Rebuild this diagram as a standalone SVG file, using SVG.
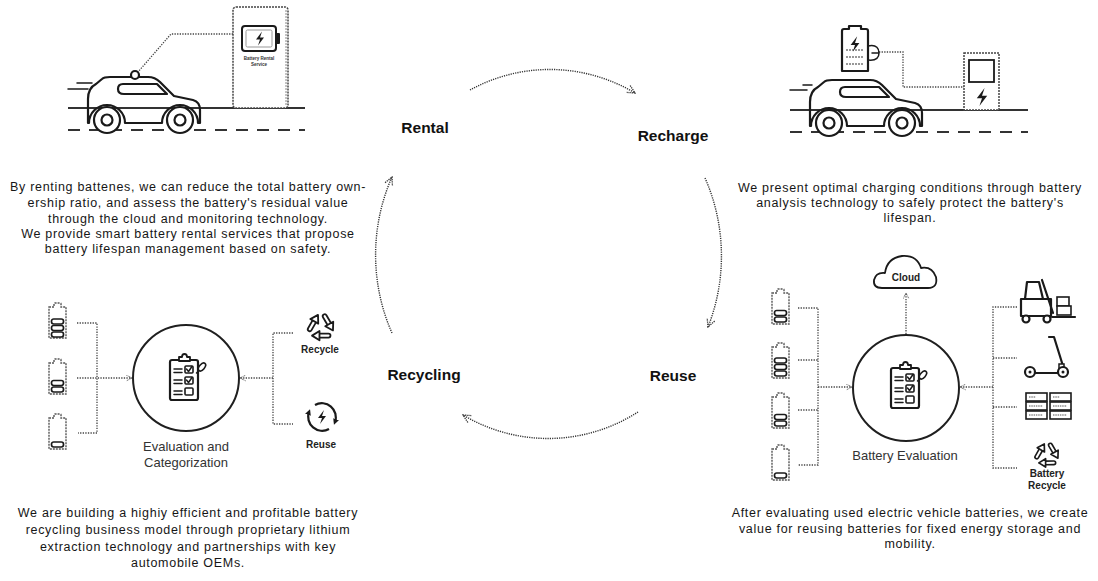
<svg xmlns="http://www.w3.org/2000/svg" xmlns:xlink="http://www.w3.org/1999/xlink" width="1098" height="581" viewBox="0 0 1098 581">
  <style>
    text { font-family: 'Liberation Sans', Arial, sans-serif; }
    .para { font-size: 12.5px; letter-spacing: 0.7px; fill: #161616; text-anchor: middle; }
    .stage { font-size: 15.5px; font-weight: bold; fill: #111; text-anchor: middle; }
    .lbl { font-size: 13px; fill: #333; text-anchor: middle; }
    .tag { font-size: 10px; font-weight: bold; fill: #222; text-anchor: middle; }
    .tiny { font-size: 4.5px; font-weight: bold; fill: #333; text-anchor: middle; }
    .dot { fill: none; stroke: #444; stroke-width: 1.3; stroke-dasharray: 1.3 1.3; }
    .cyc { fill: none; stroke: #333; stroke-width: 1.4; stroke-dasharray: 1.2 1.1; }
    .ink { fill: none; stroke: #1a1a1a; stroke-width: 2.2; stroke-linejoin: round; stroke-linecap: round; }
    .thin { fill: none; stroke: #1a1a1a; stroke-width: 1.5; stroke-linejoin: round; stroke-linecap: round; }
    .solid { fill: #1a1a1a; stroke: none; }
    .road { fill: none; stroke: #333; stroke-width: 1.8; }
    .lane { fill: none; stroke: #333; stroke-width: 1.8; stroke-dasharray: 12 9; }
    .cell { fill: none; stroke: #555; stroke-width: 1.4; stroke-dasharray: 2 1; }
    .bar { fill: #fff; stroke: #1a1a1a; stroke-width: 1.7; }
    .disc { fill: #fff; stroke: #1a1a1a; stroke-width: 2.2; }
  </style>
  <defs>
    <marker id="chev" viewBox="0 0 10 10" refX="9" refY="5" markerWidth="10" markerHeight="10" orient="auto" markerUnits="userSpaceOnUse">
      <path d="M1,1 L9,5 L1,9" fill="none" stroke="#333" stroke-width="1.3" stroke-dasharray="1.3 0.9"/>
    </marker>
    <marker id="chevS" viewBox="0 0 10 10" refX="9" refY="5" markerWidth="7" markerHeight="7" orient="auto" markerUnits="userSpaceOnUse">
      <path d="M1,1 L9,5 L1,9" fill="none" stroke="#444" stroke-width="1.3" stroke-dasharray="1.3 0.9"/>
    </marker>
    <marker id="tip" viewBox="0 0 10 10" refX="5" refY="5" markerWidth="6" markerHeight="6" orient="auto" markerUnits="userSpaceOnUse">
      <path d="M0,0 L10,5 L0,10 Z" fill="#1a1a1a"/>
    </marker>

    <!-- compact car outline, rear at x=88 -->
    <g id="car">
      <path class="ink" d="M88,123 L88,99 Q88,88 96,84 L102,79 Q104,77 110,77 L148,77 Q155,77 160,82 L174,96 L193,100 Q200,102 200,110 L200,123 L198,123 A18,18 0 0 0 162,123 L125,123 A18,18 0 0 0 89,123"/>
      <path class="ink" d="M123,84 L157,84 L167,94 L124,94 Q118,94 118,89 Q118,84 123,84 Z"/>
      <circle class="disc" cx="107" cy="120" r="13"/>
      <circle class="disc" cx="107" cy="120" r="5.5"/>
      <circle class="disc" cx="180" cy="120" r="13"/>
      <circle class="disc" cx="180" cy="120" r="5.5"/>
    </g>

    <!-- evaluation clipboard, 30 x 42 -->
    <g id="clipboard">
      <rect x="0" y="2" width="28" height="40" rx="2" fill="#fff" stroke="#1a1a1a" stroke-width="2.2"/>
      <path d="M9,3 L9,-1 L12,-1 Q12,-4 14.5,-4 Q17,-4 17,-1 L20,-1 L20,3 Z" fill="#fff" stroke="#1a1a1a" stroke-width="1.8" stroke-linejoin="round"/>
      <path class="thin" d="M4,11 H12 M4,14.5 H12 M4,22 H12 M4,25.5 H12 M4,33 H12 M4,36.5 H12"/>
      <rect x="15" y="8" width="8" height="7" rx="1" fill="#fff" stroke="#1a1a1a" stroke-width="1.6"/>
      <rect x="15" y="19" width="8" height="7" rx="1" fill="#fff" stroke="#1a1a1a" stroke-width="1.6"/>
      <rect x="15" y="30" width="8" height="7" rx="1" fill="#fff" stroke="#1a1a1a" stroke-width="1.6"/>
      <path class="thin" d="M16.5,11 L18.5,13.5 L22,8.5 M16.5,22 L18.5,24.5 L22,19.5"/>
      <ellipse cx="32" cy="9" rx="2.6" ry="4.6" transform="rotate(40 32 9)" fill="#fff" stroke="#1a1a1a" stroke-width="1.6"/>
      <path class="thin" d="M29,12.5 L26.5,15"/>
    </g>

    <!-- battery cell outline, 19 x 36 -->
    <path id="cell" class="cell" d="M1,5 L6,5 L6,2 Q6,1 7,1 L12,1 Q13,1 13,2 L13,5 L18,5 L18,36 L1,36 Z"/>
    <rect id="lvl" class="bar" x="3.5" y="0" width="12" height="5" rx="2.2"/>

    <!-- chasing-arrow recycle mark with hollow arms, centred on origin -->
    <g id="recArm">
      <path d="M-9.75,1.9 L-5.85,-4.9" fill="none" stroke="#1a1a1a" stroke-width="5" stroke-linecap="round"/>
      <path d="M-9.75,1.9 L-5.85,-4.9" fill="none" stroke="#fff" stroke-width="1.9" stroke-linecap="round"/>
      <path d="M-2.6,-10.5 L-2.4,-2.9 L-9.3,-6.9 Z" fill="#fff" stroke="#1a1a1a" stroke-width="1.6" stroke-linejoin="round"/>
    </g>
    <g id="recyc">
      <use xlink:href="#recArm"/>
      <use xlink:href="#recArm" transform="rotate(120)"/>
      <use xlink:href="#recArm" transform="rotate(240)"/>
    </g>

    <path id="bolt" d="M2,-7 L-4,1 L0,1 L-2,7 L4,-1 L0,-1 Z"/>
  </defs>

  <!-- cycle connectors -->
  <g id="connectors">
    <path class="cyc" d="M470,90 A174,184 0 0 1 635,93" marker-end="url(#chev)"/>
    <path class="cyc" d="M705,178 A174,184 0 0 1 708,327" marker-end="url(#chev)"/>
    <path class="cyc" d="M638,412 A174,184 0 0 1 463,415" marker-end="url(#chev)"/>
    <path class="cyc" d="M392,333 A174,184 0 0 1 392,177" marker-end="url(#chev)"/>

    <!-- rental link: kiosk to car -->
    <path class="dot" d="M233,34 L171,34 L138,72"/>
    <!-- recharge cable -->
    <path class="dot" d="M879,52 L903,52 L903,87 L964,87"/>

    <!-- recycling: cells into evaluation -->
    <path class="dot" d="M77,323 H97 V433 H78"/>
    <path class="dot" d="M77,378 H132" marker-end="url(#chevS)"/>
    <!-- recycling: outcomes back to evaluation -->
    <path class="dot" d="M293,333 H273 V424 H293"/>
    <path class="dot" d="M273,378 H240" marker-end="url(#chevS)"/>

    <!-- reuse: cells into evaluation -->
    <path class="dot" d="M798,308 H818 V465 H798 M798,360 H818 M798,410 H818"/>
    <path class="dot" d="M818,387 H852" marker-end="url(#chevS)"/>
    <!-- reuse: applications back to evaluation -->
    <path class="dot" d="M1017,307 H993 V468 H1017 M993,358 H1017 M993,407 H1017"/>
    <path class="dot" d="M993,387 H960" marker-end="url(#chevS)"/>
    <!-- reuse: evaluation to cloud -->
    <path class="dot" d="M906,334 V293" marker-end="url(#chevS)"/>
  </g>

  <!-- stage labels -->
  <g id="stage-rental"><text class="stage" x="425" y="133">Rental</text></g>
  <g id="stage-recharge"><text class="stage" x="673" y="141">Recharge</text></g>
  <g id="stage-reuse"><text class="stage" x="673" y="381">Reuse</text></g>
  <g id="stage-recycling"><text class="stage" x="424" y="380">Recycling</text></g>

  <!-- rental scene -->
  <g id="rental-scene">
    <path class="road" d="M68,108 H305"/>
    <path class="lane" d="M68,130 H305"/>
    <path class="thin" d="M77,83 H92 M68,89 H88"/>
    <rect x="233" y="7" width="55" height="101" rx="3" fill="#fff" stroke="#444" stroke-width="1.5" stroke-dasharray="2 1"/>
    <path d="M286,10 V106" stroke="#888" stroke-width="1" stroke-dasharray="2 1"/>
    <rect x="242" y="26" width="34" height="25" rx="3" fill="#fff" stroke="#1a1a1a" stroke-width="2"/>
    <rect x="276" y="33" width="4" height="11" rx="1" fill="#1a1a1a"/>
    <rect x="246" y="30" width="26" height="17" rx="1.5" fill="none" stroke="#999" stroke-width="1"/>
    <use xlink:href="#bolt" class="solid" transform="translate(260 38.5)"/>
    <text class="tiny" x="259" y="60">Battery Rental</text>
    <text class="tiny" x="259" y="66">Service</text>
    <use xlink:href="#car"/>
    <circle class="disc" cx="135" cy="75" r="4"/>
  </g>

  <!-- recharge scene -->
  <g id="recharge-scene">
    <path class="road" d="M790,110 H1028"/>
    <path class="lane" d="M790,132 H1028"/>
    <path class="thin" d="M803,85 H812 M790,90 H807"/>
    <use xlink:href="#car" transform="translate(722 3)"/>
    <path class="ink" d="M842,31 Q842,29 844,29 L849,29 L849,26 L861,26 L861,29 L866,29 Q868,29 868,31 L868,71 L842,71 Z" fill="#fff"/>
    <path d="M846,50 H864 M846,57 H864 M846,64 H864" stroke="#777" stroke-width="1.4" stroke-dasharray="2 1"/>
    <use xlink:href="#bolt" class="solid" transform="translate(855 44) scale(1.1)"/>
    <path class="thin" d="M868,46 C877,44 879,49 879,53 C879,57 877,61 868,60 M872,53 H879"/>
    <rect x="964" y="53" width="35" height="57" fill="#fff" stroke="#444" stroke-width="1.5" stroke-dasharray="2 1"/>
    <rect x="969" y="60" width="25" height="22" fill="none" stroke="#1a1a1a" stroke-width="1.8"/>
    <use xlink:href="#bolt" class="solid" transform="translate(982 97) scale(1.3)"/>
  </g>

  <!-- rental description -->
  <g id="rental-text">
    <text class="para" x="188" y="191">By renting battenes, we can reduce the total battery own-</text>
    <text class="para" x="188" y="207">ership ratio, and assess the battery's residual value</text>
    <text class="para" x="188" y="223">through the cloud and monitoring technology.</text>
    <text class="para" x="188" y="238">We provide smart battery rental services that propose</text>
    <text class="para" x="188" y="253">battery lifespan management based on safety.</text>
  </g>

  <!-- recharge description -->
  <g id="recharge-text">
    <text class="para" x="910" y="192">We present optimal charging conditions through battery</text>
    <text class="para" x="910" y="207">analysis technology to safely protect the battery's</text>
    <text class="para" x="910" y="222">lifespan.</text>
  </g>

  <!-- recycling: evaluation and categorization -->
  <g id="recycling-cells">
    <use xlink:href="#cell" transform="translate(48 302)"/>
    <use xlink:href="#lvl" transform="translate(48 332)"/>
    <use xlink:href="#lvl" transform="translate(48 325.5)"/>
    <use xlink:href="#lvl" transform="translate(48 319)"/>
    <use xlink:href="#cell" transform="translate(48 358)"/>
    <use xlink:href="#lvl" transform="translate(48 387)"/>
    <use xlink:href="#lvl" transform="translate(48 380.5)"/>
    <use xlink:href="#cell" transform="translate(48 413)"/>
    <use xlink:href="#lvl" transform="translate(48 442)"/>
  </g>
  <g id="recycling-evaluation">
    <circle cx="186" cy="378" r="53" fill="#fff" stroke="#1f1f1f" stroke-width="2"/>
    <use xlink:href="#clipboard" transform="translate(170 358)"/>
    <text class="lbl" x="186" y="451">Evaluation and</text>
    <text class="lbl" x="186" y="467">Categorization</text>
  </g>
  <g id="recycling-recycle">
    <use xlink:href="#recyc" transform="translate(321 327) scale(1.15)"/>
    <text class="tag" x="320" y="353">Recycle</text>
  </g>
  <g id="recycling-reuse">
    <path d="M315,405 A14,14 0 0 1 335,422" fill="none" stroke="#1a1a1a" stroke-width="2.2" marker-end="url(#tip)"/>
    <path d="M329,429 A14,14 0 0 1 309,412" fill="none" stroke="#1a1a1a" stroke-width="2.2" marker-end="url(#tip)"/>
    <use xlink:href="#bolt" class="solid" transform="translate(322 417)"/>
    <text class="tag" x="321" y="448">Reuse</text>
  </g>
  <g id="recycling-text">
    <text class="para" x="188" y="517">We are building a highiy efficient and profitable battery</text>
    <text class="para" x="188" y="534">recycling business model through proprietary lithium</text>
    <text class="para" x="188" y="551">extraction technology and partnerships with key</text>
    <text class="para" x="188" y="567">automobile OEMs.</text>
  </g>

  <!-- reuse: battery evaluation -->
  <g id="reuse-cloud">
    <path d="M882,288 Q873,288 874,280 Q876,272 885,273 Q887,258 902,256 Q917,255 921,268 Q932,266 936,277 Q938,288 928,288 Z" fill="#fff" stroke="#1a1a1a" stroke-width="1.8" stroke-linejoin="round"/>
    <text class="tag" x="906" y="281">Cloud</text>
  </g>
  <g id="reuse-cells">
    <use xlink:href="#cell" transform="translate(771 288)"/>
    <use xlink:href="#lvl" transform="translate(771 317)"/>
    <use xlink:href="#lvl" transform="translate(771 310.5)"/>
    <use xlink:href="#cell" transform="translate(771 342)"/>
    <use xlink:href="#lvl" transform="translate(771 371)"/>
    <use xlink:href="#lvl" transform="translate(771 364.5)"/>
    <use xlink:href="#lvl" transform="translate(771 358)"/>
    <use xlink:href="#cell" transform="translate(771 392)"/>
    <use xlink:href="#lvl" transform="translate(771 421)"/>
    <use xlink:href="#lvl" transform="translate(771 414.5)"/>
    <use xlink:href="#cell" transform="translate(771 444)"/>
    <use xlink:href="#lvl" transform="translate(771 473)"/>
  </g>
  <g id="reuse-evaluation">
    <circle cx="906" cy="388" r="53" fill="#fff" stroke="#1f1f1f" stroke-width="2"/>
    <use xlink:href="#clipboard" transform="translate(891 366)"/>
    <text class="lbl" x="905" y="460">Battery Evaluation</text>
  </g>
  <g id="reuse-forklift">
    <path class="ink" d="M1021,299 H1051 V316 H1021 Z"/>
    <path class="ink" d="M1025,299 L1027,282 L1039,282 L1043,299"/>
    <path class="ink" d="M1042,280 L1053,313 M1052,317 H1075"/>
    <rect x="1057" y="297" width="12" height="9" fill="#fff" stroke="#1a1a1a" stroke-width="1.6"/>
    <rect x="1057" y="306" width="14" height="9" fill="#fff" stroke="#1a1a1a" stroke-width="1.6"/>
    <circle class="disc" cx="1026" cy="319" r="3.5"/>
    <circle class="disc" cx="1047" cy="319" r="3.5"/>
  </g>
  <g id="reuse-scooter">
    <path class="ink" d="M1049,337 H1054 L1063,366 M1030,373 H1062"/>
    <rect x="1059" y="364" width="5" height="7" fill="#fff" stroke="#1a1a1a" stroke-width="1.5"/>
    <circle class="disc" cx="1030" cy="372" r="5"/>
    <circle class="disc" cx="1063" cy="372" r="5"/>
    <circle cx="1030" cy="372" r="1.5" fill="#1a1a1a"/>
    <circle cx="1063" cy="372" r="1.5" fill="#1a1a1a"/>
  </g>
  <g id="reuse-storage">
    <rect x="1026" y="393" width="21" height="8" fill="#fff" stroke="#1a1a1a" stroke-width="1.6"/>
    <rect x="1026" y="402" width="21" height="8" fill="#fff" stroke="#1a1a1a" stroke-width="1.6"/>
    <rect x="1026" y="411" width="21" height="8" fill="#fff" stroke="#1a1a1a" stroke-width="1.6"/>
    <rect x="1050" y="393" width="21" height="8" fill="#fff" stroke="#1a1a1a" stroke-width="1.6"/>
    <rect x="1050" y="402" width="21" height="8" fill="#fff" stroke="#1a1a1a" stroke-width="1.6"/>
    <rect x="1050" y="411" width="21" height="8" fill="#fff" stroke="#1a1a1a" stroke-width="1.6"/>
    <path d="M1029,397 H1036 M1029,406 H1043 M1029,415 H1043 M1053,397 H1060 M1053,406 H1067 M1053,415 H1067" stroke="#555" stroke-width="1" stroke-dasharray="1.5 0.8"/>
  </g>
  <g id="reuse-battery-recycle">
    <use xlink:href="#recyc" transform="translate(1047 455) scale(1.05)"/>
    <text class="tag" x="1047" y="477">Battery</text>
    <text class="tag" x="1047" y="489">Recycle</text>
  </g>
  <g id="reuse-text">
    <text class="para" x="910" y="517">After evaluating used electric vehicle batteries, we create</text>
    <text class="para" x="910" y="533">value for reusing batteries for fixed energy storage and</text>
    <text class="para" x="910" y="548">mobility.</text>
  </g>
</svg>
